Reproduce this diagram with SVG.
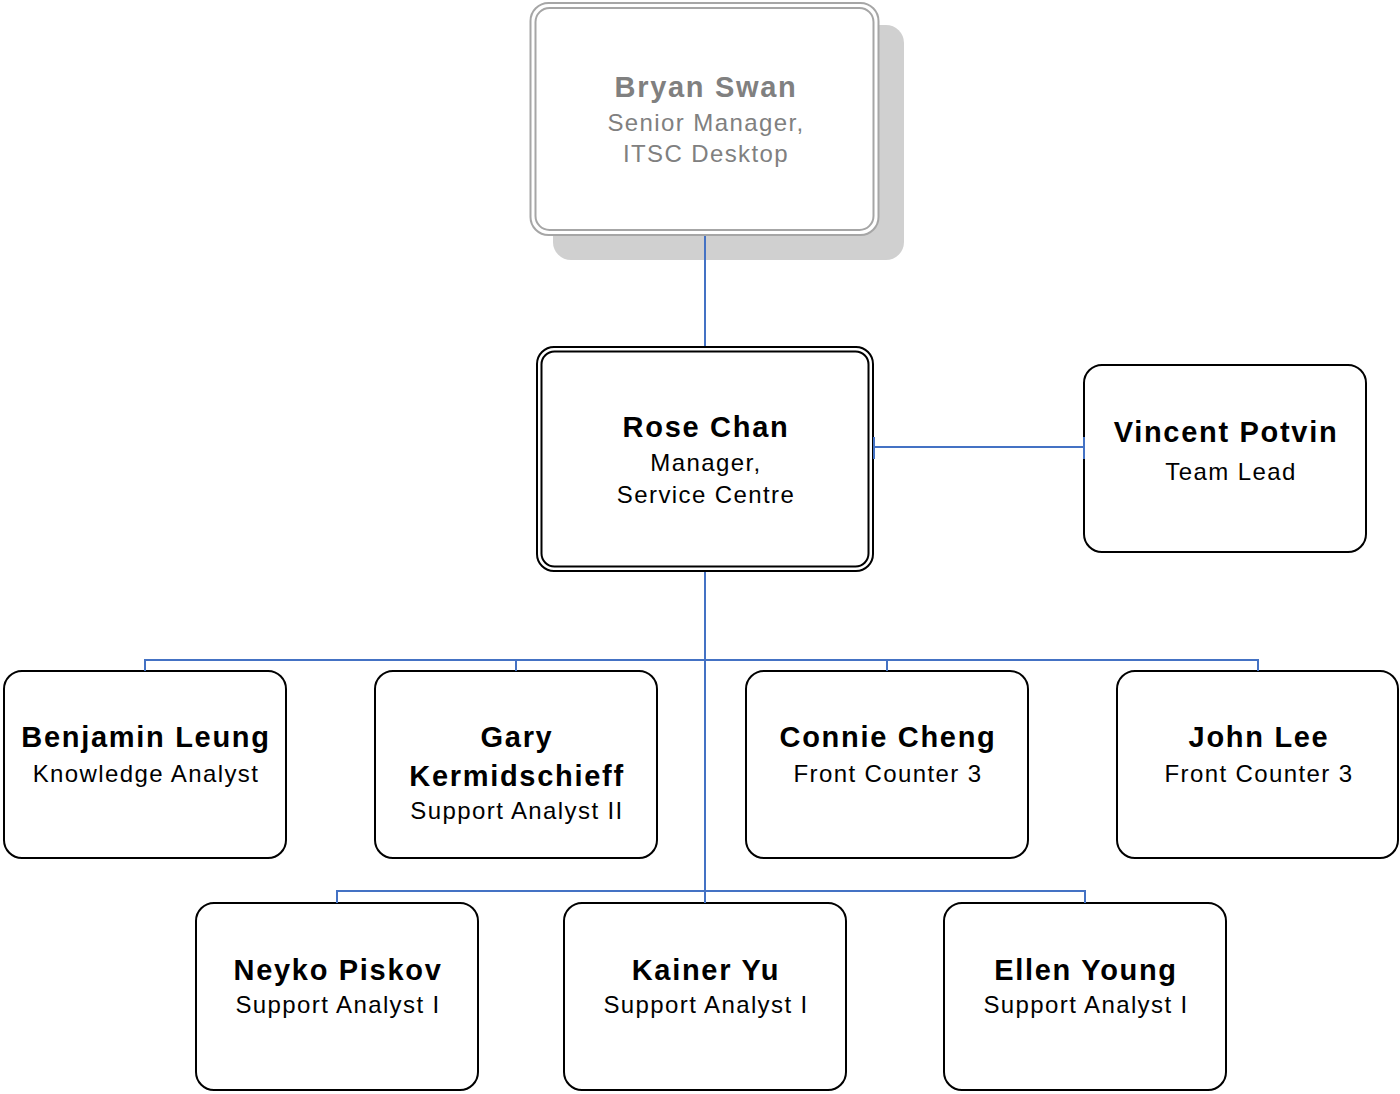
<svg xmlns="http://www.w3.org/2000/svg" width="1400" height="1094" viewBox="0 0 1400 1094">
<style>
.box{fill:#fff;stroke:#000;stroke-width:2}
.dbl{fill:none;stroke:#000;stroke-width:2}
.gbox{fill:#fff;stroke:#a6a6a6;stroke-width:2}
.gdbl{fill:none;stroke:#a6a6a6;stroke-width:2}
.shadow{fill:#d0d0d0}
.conn{fill:none;stroke:#4472c4;stroke-width:2}
text{font-family:"Liberation Sans",Arial,sans-serif;text-anchor:middle;fill:#000}
.n{font-weight:bold;font-size:29px;letter-spacing:1.7px}
.t{font-size:24px;letter-spacing:1.4px}
.g{fill:#808080}
</style>
<rect width="1400" height="1094" fill="#fff"/>
<g id="bryan">
<rect class="shadow" x="553" y="25" width="351" height="235" rx="18"/>
<rect class="gbox" x="530.5" y="3" width="348" height="232" rx="18"/>
<rect class="gdbl" x="535.5" y="8" width="338" height="222" rx="14"/>
<text class="n g" x="706" y="97">Bryan Swan</text>
<text class="t g" x="706" y="131">Senior Manager,</text>
<text class="t g" x="706" y="162">ITSC Desktop</text>
</g>
<g id="rose">
<rect class="box" x="537" y="347" width="336" height="224" rx="17"/>
<rect class="dbl" x="541.5" y="351.5" width="327" height="215" rx="13"/>
<text class="n" x="706" y="437">Rose Chan</text>
<text class="t" x="706" y="471">Manager,</text>
<text class="t" x="706" y="503">Service Centre</text>
</g>
<g id="vincent">
<rect class="box" x="1084" y="365" width="282" height="187" rx="18"/>
<text class="n" x="1226" y="442">Vincent Potvin</text>
<text class="t" x="1231" y="480">Team Lead</text>
</g>
<g id="benjamin">
<rect class="box" x="4" y="671" width="282" height="187" rx="18"/>
<text class="n" x="146" y="747">Benjamin Leung</text>
<text class="t" x="146" y="782">Knowledge Analyst</text>
</g>
<g id="gary">
<rect class="box" x="375" y="671" width="282" height="187" rx="18"/>
<text class="n" x="517" y="747">Gary</text>
<text class="n" x="517" y="786">Kermidschieff</text>
<text class="t" x="517" y="819">Support Analyst II</text>
</g>
<g id="connie">
<rect class="box" x="746" y="671" width="282" height="187" rx="18"/>
<text class="n" x="888" y="747">Connie Cheng</text>
<text class="t" x="888" y="782">Front Counter 3</text>
</g>
<g id="john">
<rect class="box" x="1117" y="671" width="281" height="187" rx="18"/>
<text class="n" x="1259" y="747">John Lee</text>
<text class="t" x="1259" y="782">Front Counter 3</text>
</g>
<g id="neyko">
<rect class="box" x="196" y="903" width="282" height="187" rx="18"/>
<text class="n" x="338" y="980">Neyko Piskov</text>
<text class="t" x="338" y="1013">Support Analyst I</text>
</g>
<g id="kainer">
<rect class="box" x="564" y="903" width="282" height="187" rx="18"/>
<text class="n" x="706" y="980">Kainer Yu</text>
<text class="t" x="706" y="1013">Support Analyst I</text>
</g>
<g id="ellen">
<rect class="box" x="944" y="903" width="282" height="187" rx="18"/>
<text class="n" x="1086" y="980">Ellen Young</text>
<text class="t" x="1086" y="1013">Support Analyst I</text>
</g>
<g id="connectors">
<path class="conn" d="M705 236V346"/>
<path class="conn" d="M705 572V903"/>
<path class="conn" d="M145 671V660H1258V671M516 660V671M887 660V671"/>
<path class="conn" d="M337 903V891H1085V903"/>
<path class="conn" d="M874 437V459M874 447H1084M1084 437V459"/>
</g>
</svg>
